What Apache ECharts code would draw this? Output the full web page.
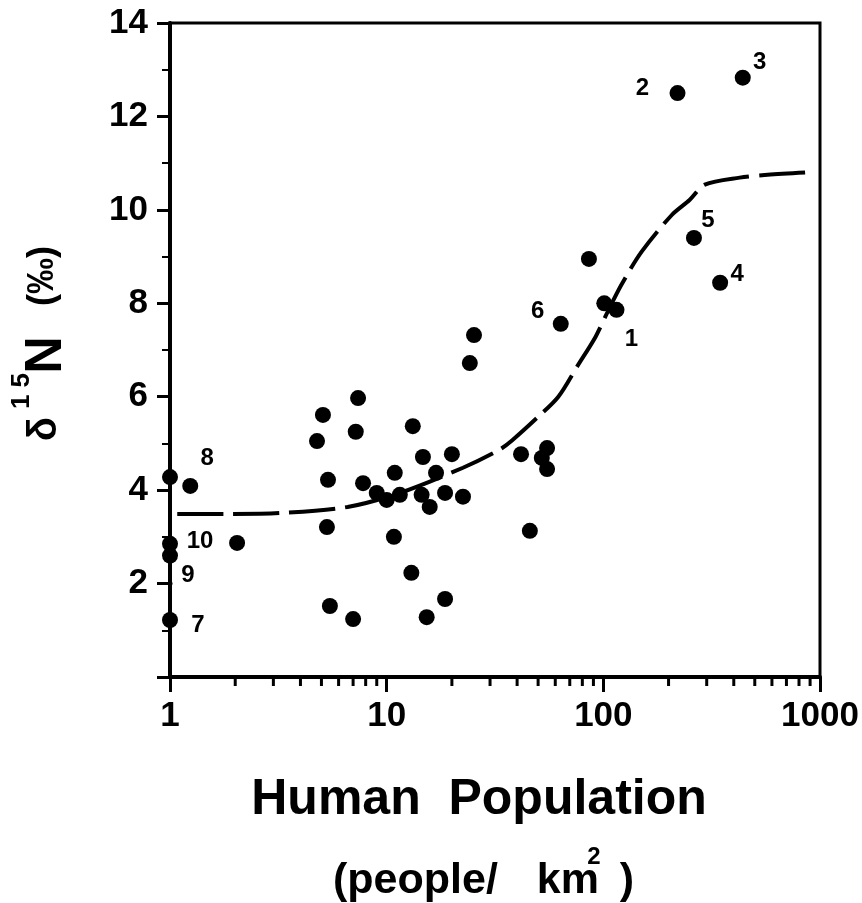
<!DOCTYPE html>
<html>
<head>
<meta charset="utf-8">
<script src="https://cdn.jsdelivr.net/npm/echarts@6/dist/echarts.min.js"></script>
<style>html,body{margin:0;padding:0;background:#fff}#c{width:862px;height:903px}</style>
</head>
<body>
<div id="c"></div>
<script>
// ---- data ----
const xTickLabels = ['1', '10', '100', '1000'];
const yTickLabels = ['2', '4', '6', '8', '10', '12', '14'];
const xMinorTicks = [2, 3, 4, 5, 6, 7, 8, 9, 20, 30, 40, 50, 60, 70, 80, 90, 200, 300, 400, 500, 600, 700, 800, 900];

// unlabelled sites
const plainX = [7.38, 5.08, 7.2, 4.77, 13.2, 24.2, 25.3, 5.36, 7.78, 14.7, 20.0, 10.9, 16.9, 9.0, 10.0, 11.5, 14.5, 15.8, 18.6, 22.5, 5.3, 10.8, 2.04, 13.0, 5.47, 7.0, 18.6, 15.3, 41.7, 55, 52, 55, 45.8, 85.8, 101, 1.0, 1.0];
const plainY = [5.97, 5.61, 5.25, 5.05, 5.37, 6.72, 7.32, 4.22, 4.15, 4.71, 4.77, 4.37, 4.37, 3.94, 3.79, 3.90, 3.90, 3.64, 3.94, 3.86, 3.21, 3.00, 2.87, 2.23, 1.52, 1.24, 1.67, 1.28, 4.77, 4.90, 4.69, 4.45, 3.13, 8.95, 8.00, 4.28, 2.60];

// numbered sites
const numberedIds = ['1', '2', '3', '4', '5', '6', '7', '8', '9', '10'];
const numberedX = [115, 220, 440, 346, 262, 63.6, 1.0, 1.24, 1.0, 1.0];
const numberedY = [7.86, 12.5, 12.83, 8.44, 9.4, 7.56, 1.22, 4.09, 2.0, 2.85];

// fitted dashed curve
const curveX = [1.08, 1.8, 3.2, 6.6, 11.5, 22.5, 33, 38, 50, 62, 76, 92, 104, 121, 150, 207, 250, 294, 426, 573, 942];
const curveY = [3.49, 3.49, 3.51, 3.64, 3.94, 4.48, 4.86, 5.07, 5.57, 6.0, 6.66, 7.28, 7.79, 8.39, 9.1, 9.89, 10.21, 10.54, 10.69, 10.75, 10.81];

// ---- styling ----
const FONT = '"Liberation Sans", Arial, Helvetica, sans-serif';
const labelOffset = {
  '1': [15, 30], '2': [-35, -5], '3': [17, -15], '4': [17, -8], '5': [14, -18],
  '6': [-23, -12], '7': [28, 5], '8': [17, -28], '9': [18, -8], '10': [30, -2]
};
const smallSymbol = { '9': 5 };

const chart = echarts.init(document.getElementById('c'), null, { renderer: 'canvas' });

const numberedData = numberedIds.map((id, i) => ({
  value: [numberedX[i], numberedY[i]],
  name: id,
  symbolSize: smallSymbol[id] || 16,
  label: { offset: labelOffset[id] }
}));

function txt(x, y, text, font, rot, align) {
  const a = align || 'center';
  return { type: 'text', x: x, y: y, rotation: rot || 0, silent: true,
    style: { text: text, fill: '#000', font: font, align: a, verticalAlign: 'middle', textAlign: a, textVerticalAlign: 'middle' } };
}

const option = {
  animation: false,
  backgroundColor: '#fff',
  grid: { left: 170, right: 42, top: 23, bottom: 226, show: true, borderColor: '#000', borderWidth: 3, containLabel: false },
  xAxis: {
    type: 'log', logBase: 10, min: 1, max: 1000,
    axisLine: { show: true, onZero: false, lineStyle: { color: '#000', width: 4 } },
    axisTick: { show: true, inside: false, length: 15, lineStyle: { color: '#000', width: 3 } },
    axisLabel: {
      color: '#000', fontFamily: FONT, fontWeight: 'bold', fontSize: 35, margin: 22,
      formatter: v => { const i = Math.round(Math.log10(v)); return xTickLabels[i] !== undefined ? xTickLabels[i] : ''; }
    },
    splitLine: { show: false }
  },
  yAxis: {
    type: 'value', min: 0, max: 14, interval: 2,
    axisLine: { show: true, onZero: false, lineStyle: { color: '#000', width: 4 } },
    axisTick: { show: true, inside: false, length: 13, lineStyle: { color: '#000', width: 3 } },
    minorTick: { show: true, splitNumber: 2, length: 8, lineStyle: { color: '#000', width: 2 } },
    axisLabel: {
      color: '#000', fontFamily: FONT, fontWeight: 'bold', fontSize: 35, margin: 22,
      formatter: v => { const i = Math.round(v / 2) - 1; return i >= 0 && yTickLabels[i] !== undefined ? yTickLabels[i] : ''; }
    },
    splitLine: { show: false }
  },
  series: [
    {
      type: 'custom', silent: true, clip: false, z: 1,
      data: xMinorTicks.map(v => [v, 0]),
      renderItem: (params, api) => {
        const p = api.coord([api.value(0), 0]);
        return { type: 'line', shape: { x1: p[0], y1: p[1], x2: p[0], y2: p[1] + 9 }, style: { stroke: '#000', lineWidth: 3 } };
      }
    },
    {
      type: 'line', smooth: 0.3, symbol: 'none', silent: true, z: 3,
      data: curveX.map((x, i) => [x, curveY[i]]),
      lineStyle: { color: '#000', width: 4, type: [46, 10], cap: 'butt' }
    },
    {
      type: 'scatter', symbol: 'circle', symbolSize: 16, z: 4,
      data: plainX.map((x, i) => [x, plainY[i]]),
      itemStyle: { color: '#000', opacity: 1 }
    },
    {
      type: 'scatter', symbol: 'circle', z: 5,
      data: numberedData,
      itemStyle: { color: '#000', opacity: 1 },
      label: {
        show: true, position: 'inside', formatter: p => p.name,
        color: '#000', fontFamily: FONT, fontWeight: 'bold', fontSize: 24
      }
    }
  ],
  graphic: [
    txt(45, 429, 'δ', 'bold 40px ' + FONT, Math.PI / 2),
    txt(22, 391, '1 5', 'bold 26px ' + FONT, Math.PI / 2),
    txt(47, 355, 'N', 'bold 52px ' + FONT, Math.PI / 2),
    txt(43, 276, '(‰)', 'bold 36px ' + FONT, Math.PI / 2),
    txt(479, 800, 'Human  Population', 'bold 50px ' + FONT),
    txt(333, 881, '(people/', 'bold 43px ' + FONT, 0, 'left'),
    txt(599, 881, 'km', 'bold 43px ' + FONT, 0, 'right'),
    txt(594, 857, '2', 'bold 24px ' + FONT),
    txt(627, 881, ')', 'bold 43px ' + FONT)
  ]
};
chart.setOption(option);
</script>
</body>
</html>
